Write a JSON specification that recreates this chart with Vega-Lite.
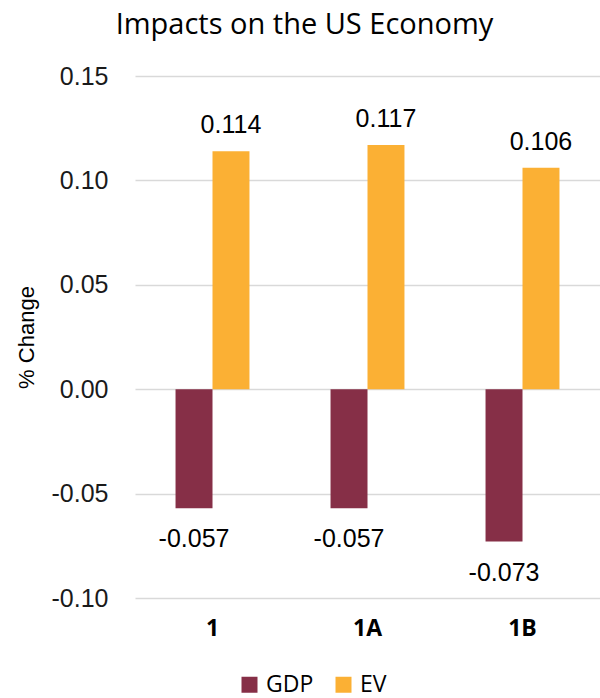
{
  "$schema": "https://vega.github.io/schema/vega-lite/v6.json",
  "autosize": "none",
  "width": 465,
  "height": 522,
  "padding": {"left": 135, "top": 76, "right": 0, "bottom": 100},
  "background": "white",
  "title": {"text": "Impacts on the US Economy", "font": "Open Sans", "fontSize": 29, "fontWeight": "normal", "color": "#000000", "anchor": "middle", "dx": -63, "offset": 24},
  "data": {"values": [
    {"scenario": "1", "series": "GDP", "value": -0.057},
    {"scenario": "1", "series": "EV", "value": 0.114},
    {"scenario": "1A", "series": "GDP", "value": -0.057},
    {"scenario": "1A", "series": "EV", "value": 0.117},
    {"scenario": "1B", "series": "GDP", "value": -0.073},
    {"scenario": "1B", "series": "EV", "value": 0.106}
  ]},
  "encoding": {
    "x": {"field": "scenario", "type": "nominal", "sort": ["1", "1A", "1B"],
      "scale": {"paddingInner": 0.523, "paddingOuter": 0.2615},
      "axis": {"title": null, "labelAngle": 0, "domain": false, "ticks": false, "labelFont": "Open Sans", "labelFontWeight": "bold", "labelFontSize": 23, "labelColor": "#000000", "labelPadding": 19}},
    "xOffset": {"field": "series", "type": "nominal", "sort": ["GDP", "EV"], "scale": {"paddingInner": 0, "paddingOuter": 0}},
    "y": {"field": "value", "type": "quantitative",
      "scale": {"domain": [-0.1, 0.15], "nice": false},
      "axis": {"title": "% Change", "values": [-0.1, -0.05, 0, 0.05, 0.1, 0.15], "labelExpr": "replace(format(datum.value, '.2f'), '\u2212', '-')", "domain": false, "ticks": false, "grid": true, "gridColor": "#D9D9D9", "gridWidth": 1.5, "labelFont": "Liberation Sans", "labelFontSize": 25, "labelColor": "#1a1a1a", "labelPadding": 27, "titleFont": "Liberation Sans", "titleFontSize": 22, "titleFontWeight": "normal", "titleColor": "#000000", "titlePadding": 13}}
  },
  "layer": [
    {"mark": {"type": "bar"},
     "encoding": {"color": {"field": "series", "type": "nominal", "sort": ["GDP", "EV"],
       "scale": {"domain": ["GDP", "EV"], "range": ["#862F47", "#FBB034"]},
       "legend": {"title": null, "orient": "none", "legendX": 103, "legendY": 597, "direction": "horizontal", "symbolType": "square", "symbolSize": 256, "symbolStrokeWidth": 0, "labelFont": "Open Sans", "labelFontSize": 23, "labelColor": "#000000", "columnPadding": 18, "labelOffset": 5}}}},
    {"transform": [{"filter": "datum.value > 0"}],
     "mark": {"type": "text", "baseline": "bottom", "dy": -13, "font": "Liberation Sans", "fontSize": 25, "color": "#000000", "text": {"expr": "replace(format(datum.value, '.3f'), '\u2212', '-')"}}},
    {"transform": [{"filter": "datum.value < 0"}],
     "mark": {"type": "text", "baseline": "top", "dy": 19, "font": "Liberation Sans", "fontSize": 25, "color": "#000000", "text": {"expr": "replace(format(datum.value, '.3f'), '\u2212', '-')"}}}
  ],
  "config": {"view": {"stroke": null}}
}
